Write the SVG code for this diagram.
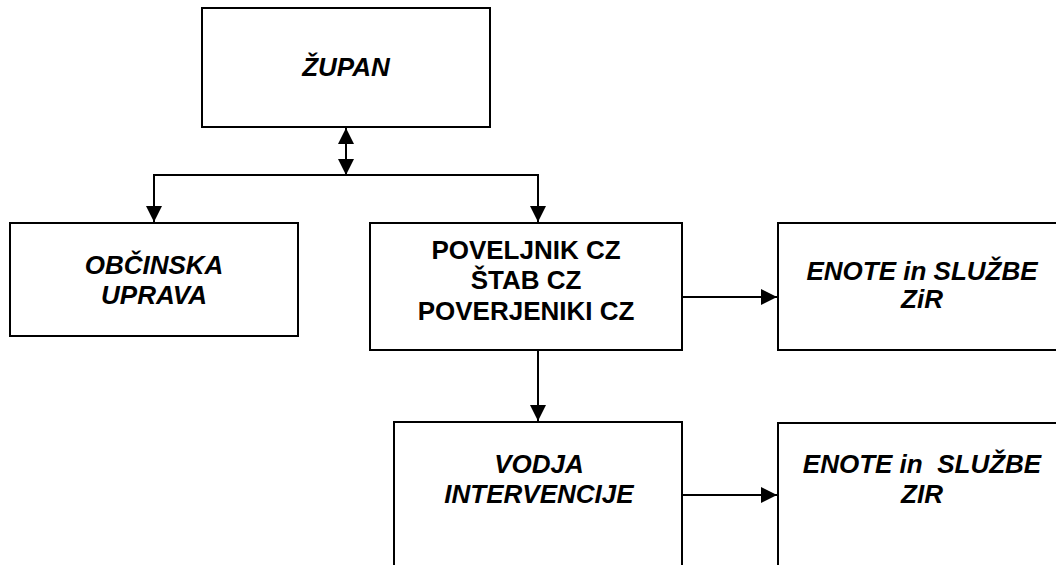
<svg xmlns="http://www.w3.org/2000/svg" width="1056" height="565" viewBox="0 0 1056 565">
<style>
.box{fill:#fff;stroke:#000;stroke-width:2}
.t{font-family:"Liberation Sans",Arial,sans-serif;font-size:26px;font-weight:bold;text-anchor:middle;fill:#000}
.i{font-style:italic}
.c{fill:none;stroke:#000;stroke-width:2}
</style>
<defs>
<marker id="ah" markerUnits="userSpaceOnUse" markerWidth="16" markerHeight="16" viewBox="0 0 16 16" refX="16" refY="8" orient="auto-start-reverse">
<path d="M0,0 L16,8 L0,16 Z" fill="#000"/>
</marker>
</defs>
<rect width="1056" height="565" fill="#fff"/>
<g id="connectors">
<line class="c" x1="346" y1="128" x2="346" y2="175" marker-start="url(#ah)" marker-end="url(#ah)"/>
<polyline class="c" points="154,222 154,175 538,175 538,222" marker-end="url(#ah)"/>
<line class="c" x1="154" y1="175" x2="154" y2="222" marker-end="url(#ah)"/>
<line class="c" x1="538" y1="351" x2="538" y2="421" marker-end="url(#ah)"/>
<line class="c" x1="683" y1="297" x2="777" y2="297" marker-end="url(#ah)"/>
<line class="c" x1="683" y1="495" x2="777" y2="495" marker-end="url(#ah)"/>
</g>
<g id="zupan">
<rect class="box" x="202" y="8" width="288" height="119"/>
<text class="t i" x="346" y="76">ŽUPAN</text>
</g>
<g id="obcinska">
<rect class="box" x="10" y="223" width="288" height="113"/>
<text class="t i" x="154" y="274">OBČINSKA</text>
<text class="t i" x="154" y="304">UPRAVA</text>
</g>
<g id="poveljnik">
<rect class="box" x="370" y="223" width="312" height="127"/>
<text class="t" x="526" y="259">POVELJNIK CZ</text>
<text class="t" x="526" y="289">ŠTAB CZ</text>
<text class="t" x="526" y="320">POVERJENIKI CZ</text>
</g>
<g id="enote1">
<rect class="box" x="778" y="223" width="292" height="127"/>
<text class="t i" x="922" y="280">ENOTE in SLUŽBE</text>
<text class="t i" x="922" y="308">ZiR</text>
</g>
<g id="vodja">
<rect class="box" x="394" y="422" width="288" height="160"/>
<text class="t i" x="539" y="473">VODJA</text>
<text class="t i" x="539" y="503">INTERVENCIJE</text>
</g>
<g id="enote2">
<rect class="box" x="778" y="423" width="292" height="160"/>
<text class="t i" x="922" y="473" style="white-space:pre">ENOTE in  SLUŽBE</text>
<text class="t i" x="922" y="503">ZIR</text>
</g>
</svg>
